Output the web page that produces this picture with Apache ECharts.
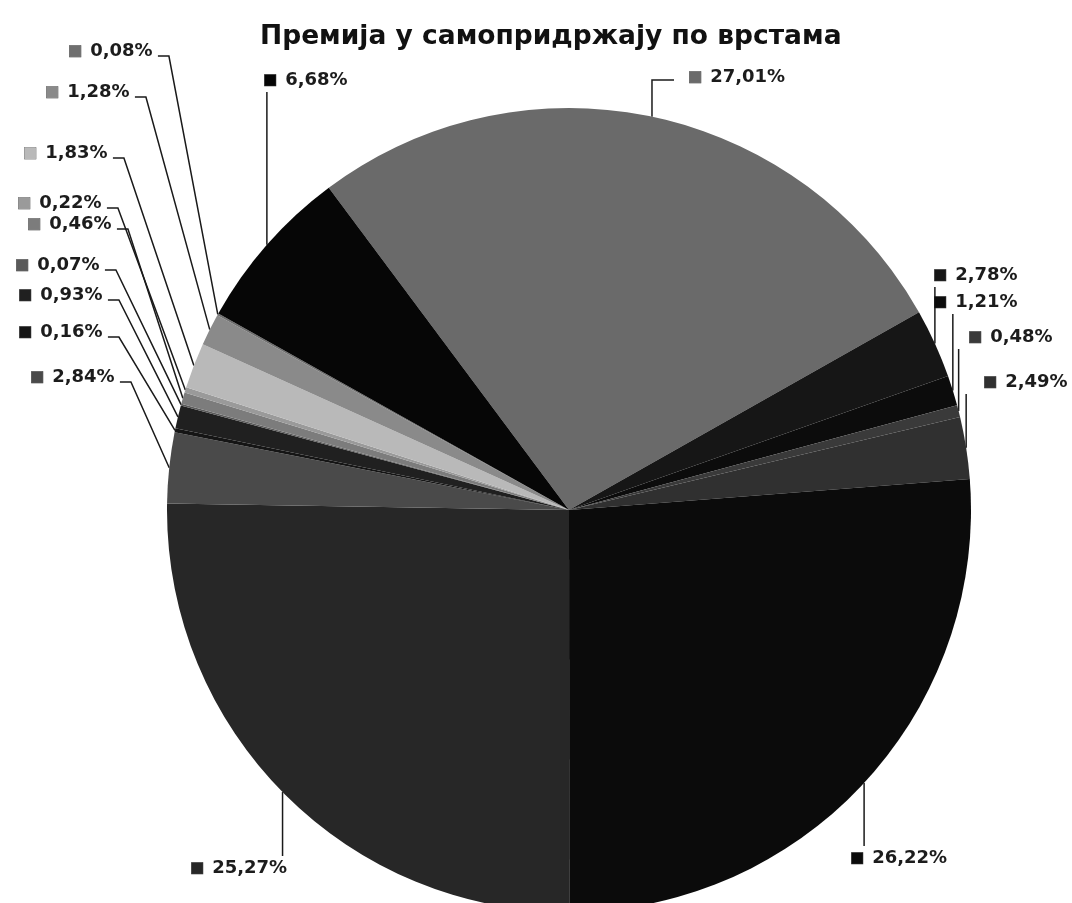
<!DOCTYPE html>
<html>
<head>
<meta charset="utf-8">
<script src="https://cdn.jsdelivr.net/npm/echarts@6/dist/echarts.min.js"></script>
<style>
  html, body { margin: 0; padding: 0; background: #ffffff; }
  #chart { width: 1072px; height: 903px; }
</style>
</head>
<body>
<div id="chart"></div>
<script>
const chartTitle = 'Премија у самопридржају по врстама';

// share of premium retained, per insurance type, clockwise from the top slice
const shares = [27.01, 2.78, 1.21, 0.48, 2.49, 26.22, 25.27, 2.84, 0.16, 0.93, 0.07, 0.46, 0.22, 1.83, 1.28, 0.08, 6.68];

// grey shade of each slice
const shades = ['#6a6a6a', '#161616', '#0c0c0c', '#3a3a3a', '#303030', '#0b0b0b', '#272727', '#4a4a4a',
                '#151515', '#202020', '#5a5a5a', '#7c7c7c', '#9a9a9a', '#b9b9b9', '#8a8a8a', '#6f6f6f', '#060606'];

// where each label sits (left edge, vertical middle) and how its leader runs
const labelAt = [
  [688, 77, 'top'], [933, 275, 'below'], [933, 302, 'below'], [968, 337, 'below'], [983, 382, 'below'],
  [850, 858, 'above'], [190, 868, 'above'], [30, 377, 'left'], [18, 332, 'left'], [18, 295, 'left'],
  [15, 265, 'left'], [27, 224, 'left'], [17, 203, 'left'], [23, 153, 'left'], [45, 92, 'left'],
  [68, 51, 'left'], [263, 80, 'below']
];

const fmt = v => v.toFixed(2).replace('.', ',') + '%';

const rich = { t: { fontFamily: 'DejaVu Sans', fontSize: 18, fontWeight: 'bold', color: '#1c1c1c', padding: [0, 0, 0, 8] } };
shades.forEach((c, i) => {
  rich['m' + i] = { fontFamily: 'DejaVu Sans', fontSize: 15, color: c, textBorderColor: '#222', textBorderWidth: 0.6 };
});

const chart = echarts.init(document.getElementById('chart'), null, { renderer: 'canvas' });

chart.setOption({
  animation: false,
  backgroundColor: '#ffffff',
  title: {
    text: chartTitle,
    left: 255,
    top: 19,
    textStyle: { fontFamily: 'DejaVu Sans', fontSize: 26.5, fontWeight: 'bold', color: '#111' }
  },
  series: [{
    type: 'pie',
    center: [569, 510],
    radius: 402,
    startAngle: 126.7,
    clockwise: true,
    avoidLabelOverlap: false,
    itemStyle: { borderWidth: 0 },
    data: shares.map((v, i) => ({ value: v, itemStyle: { color: shades[i] } })),
    label: {
      show: true,
      position: 'outside',
      formatter: p => '{m' + p.dataIndex + '|■}{t|' + fmt(p.value) + '}',
      rich: rich
    },
    labelLine: {
      show: true,
      length: 10,
      length2: 10,
      smooth: false,
      lineStyle: { color: '#1a1a1a', width: 1.5 }
    },
    labelLayout: function (p) {
      const [lx, ly, kind] = labelAt[p.dataIndex];
      const w = p.labelRect.width;
      const edge = p.labelLinePoints ? [p.labelLinePoints[0][0], p.labelLinePoints[0][1]] : [lx, ly];
      let pts;
      if (kind === 'left') {
        pts = [edge, [lx + w + 16, ly + 5], [lx + w + 5, ly + 5]];
      } else if (kind === 'top') {
        pts = [edge, [edge[0], ly + 3], [lx - 14, ly + 3]];
      } else if (kind === 'below') {
        pts = [edge, [edge[0], ly + 12]];
      } else {
        pts = [edge, [edge[0], ly - 12]];
      }
      return { x: lx, y: ly, align: 'left', verticalAlign: 'middle', labelLinePoints: pts };
    }
  }]
});
</script>
</body>
</html>
